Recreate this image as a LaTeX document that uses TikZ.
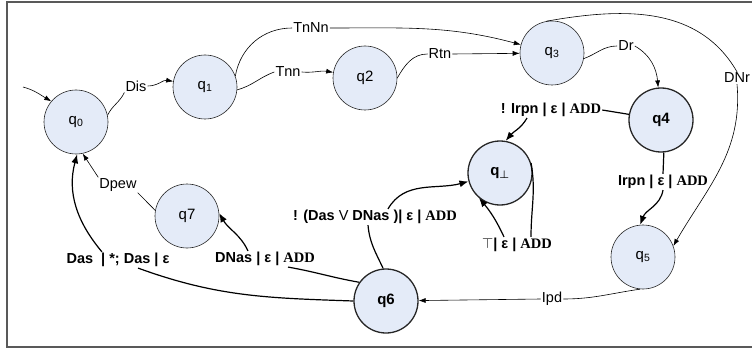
\documentclass[tikz,border=0pt]{standalone}
\usepackage{fontspec}
\setmainfont{Liberation Sans}
\newfontfamily\timesfont{Liberation Serif}
\usetikzlibrary{arrows.meta}
\definecolor{statefill}{RGB}{228,235,248}
\newcommand{\addop}{{\timesfont\bfseries ADD}}

\begin{document}
\begin{tikzpicture}[x=1pt,y=-1pt]
    % Define block styles
    \tikzstyle{state} = [circle, draw=black!85, fill=statefill, line width=0.6pt,
        minimum size=64pt, inner sep=0pt, font=\fontsize{15}{18}\selectfont]
    \tikzstyle{bstate} = [state, line width=1.3pt, font=\fontsize{15}{18}\selectfont\bfseries]
    \tikzstyle{lbl} = [inner sep=1pt, font=\fontsize{14.5}{17}\selectfont]
    \tikzstyle{blbl} = [lbl, font=\fontsize{14.5}{17}\selectfont\bfseries]
    \tikzstyle{line} = [draw, line width=0.6pt, -{Latex[length=7pt,width=5pt]}] % thin arrow
    \tikzstyle{bline} = [draw, line width=1.2pt, -{Latex[length=9pt,width=7pt]}] % bold arrow

    \useasboundingbox (0,0) rectangle (752,350);
    \draw [black!65, line width=1.2pt] (752,2) -- (7,2) -- (7,347) -- (752,347);

    % Place nodes
    \node [state] (q0) at (76,122) {q\textsubscript{0}};
    \node [state, right of=q0, node distance=129pt, yshift=35pt] (q1) {q\textsubscript{1}};
    \node [state, right of=q1, node distance=160pt, yshift=9pt] (q2) {q2};
    \node [state, right of=q2, node distance=187pt, yshift=25pt] (q3) {q\textsubscript{3}};
    \node [bstate, below of=q3, node distance=67pt, xshift=109pt] (q4) {q4};
    \node [state, below of=q4, node distance=137pt, xshift=-18pt] (q5) {q\textsubscript{5}};
    \node [bstate, left of=q5, node distance=257pt, yshift=-44pt] (q6) {q6};
    \node [bstate, above of=q6, node distance=128pt, xshift=114pt] (qb) {q\textsubscript{{\boldmath$\bot$}}};
    \node [state, left of=q6, node distance=199pt, yshift=85pt] (q7) {q7};
    \coordinate (init) at (23,87);

    % Edge labels
    \node [lbl] (dis) at (136,86) {Dis};
    \node [lbl] (tnn) at (288,72) {Tnn};
    \node [lbl] (tnnn) at (311,28) {TnNn};
    \node [lbl] (rtn) at (440,54) {Rtn};
    \node [lbl] (dr) at (626,46) {Dr};
    \node [lbl] (dnr) at (737,78) {DNr};
    \node [blbl] (nirpn) at (551,110) {! Irpn | ε | \addop};
    \node [blbl] (irpn) at (663,182) {Irpn | ε | \addop};
    \node [lbl] (ipd) at (552,299) {Ipd};
    \node [blbl] (ndas) at (375,217) {! (Das {\mdseries V} DNas )| ε | \addop};
    \node [blbl] (top) at (517,245) {{\mdseries$\top$}| ε | \addop};
    \node [blbl] (dnas) at (265,259) {DNas | ε | \addop};
    \node [blbl] (das) at (118,260) {Das\ \ | *; Das | ε};
    \node [lbl] (dpew) at (118,185) {Dpew};

    % Draw arrows
    \path [line] (init) to[out=-15,in=150] (q0.140);
    \path [line] (q0.12) to[out=65,in=-115] (dis.south west) (dis.east) to[out=0,in=170] (q1);
    \path [line] (q1.-5) to[out=15,in=200] (tnn.west) (tnn.east) to[out=-5,in=170] (q2);
    \path [line] (q1.20) to[out=80,in=180] (tnnn.west) (tnnn.east) to[out=0,in=165] (q3.165);
    \path [line] (q2.0) to[out=60,in=180] (rtn.west) (rtn.east) -- (q3);
    \path [line] (q3.-10) to[out=20,in=180] (dr.west) (dr.east) to[out=-30,in=95] (q4);
    \path [line] (q3.100) to[out=10,in=120] (dnr.north) (dnr.south) to[out=-85,in=60] (q5.20);
    \path [bline] (q4.170) -- (nirpn.east) ([xshift=-24pt]nirpn.south) to[out=-120,in=50] (qb.80);
    \path [bline] (q4.-85) -- (irpn.north) (irpn.south) to[out=-100,in=70] (q5.95);
    \path [line] (q5.-95) to[out=-172,in=0] (ipd.east) (ipd.west) -- (q6);
    \path [bline] (q6.95) to[out=115,in=-85] ([xshift=-7pt]ndas.south) ([xshift=13pt]ndas.north) to[out=60,in=195] (qb);
    \path [bline] (qb.18) to[out=-80,in=90] ([xshift=14pt]top.north) ([xshift=-13pt]top.north) to[out=115,in=-50] (qb.-130);
    \path [bline] (q6.145) to[out=170,in=-10] ([xshift=23pt]dnas.south) ([xshift=-17pt]dnas.north) to[out=115,in=-60] (q7.5);
    \path [bline] (q6.180) to[out=178,in=-20] ([xshift=20pt]das.south) ([xshift=-16pt]das.north) to[out=130,in=-105] (q0.-88);
    \path [line] (q7.170) -- (dpew.south east) (dpew.north west) -- (q0.-78);
\end{tikzpicture}
\end{document}
